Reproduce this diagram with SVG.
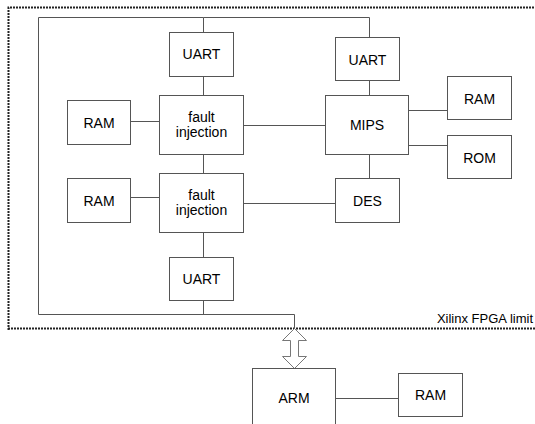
<svg xmlns="http://www.w3.org/2000/svg" width="535" height="424" viewBox="0 0 535 424">
<style>
.box{fill:#fff;stroke:#555;stroke-width:1}
.ln{fill:none;stroke:#555;stroke-width:1}
.t{font-family:"Liberation Sans",Arial,sans-serif;font-size:14px;fill:#000;text-anchor:middle}
</style>
<rect width="535" height="424" fill="#fff"/>
<path d="M8.5,330 V7.5 H540 M8,328.5 H540" fill="none" stroke="#222" stroke-width="2" stroke-dasharray="2,1"/>
<text x="533" y="323" font-family="'Liberation Sans',Arial,sans-serif" font-size="13" text-anchor="end">Xilinx FPGA limit</text>
<g id="connectors">
<path class="ln" d="M203.5,32 V17.5 H38.5 V314.5 H294.5 V328"/>
<path class="ln" d="M203.5,17.5 H369.5 V37"/>
<path class="ln" d="M203.5,76 V95"/>
<path class="ln" d="M130,121.5 H159"/>
<path class="ln" d="M243,125.5 H325"/>
<path class="ln" d="M369.5,80 V95"/>
<path class="ln" d="M408,110.5 H447"/>
<path class="ln" d="M408,145.5 H447"/>
<path class="ln" d="M369.5,154 V178"/>
<path class="ln" d="M203.5,154 V173"/>
<path class="ln" d="M130,197.5 H159"/>
<path class="ln" d="M243,203.5 H335"/>
<path class="ln" d="M203.5,232 V257"/>
<path class="ln" d="M203.5,300 V314"/>
<path class="ln" d="M335,398.5 H398"/>
<path d="M294.5,328.5 L306.5,340.5 H298.5 V356.5 H306.5 L294.5,368.5 L282.5,356.5 H290.5 V340.5 H282.5 Z" fill="#fff" stroke="#777" stroke-width="1"/>
</g>
<g id="uart1"><rect class="box" x="169.5" y="32.5" width="64" height="44"/><text class="t" x="201.5" y="59">UART</text></g>
<g id="fi1"><rect class="box" x="159.5" y="95.5" width="84" height="59"/><text class="t" x="201.5" y="122">fault</text><text class="t" x="201.5" y="137">injection</text></g>
<g id="ram1"><rect class="box" x="67.5" y="100.5" width="63" height="44"/><text class="t" x="99" y="128">RAM</text></g>
<g id="uart2"><rect class="box" x="335.5" y="37.5" width="64" height="43"/><text class="t" x="367.5" y="65">UART</text></g>
<g id="mips"><rect class="box" x="325.5" y="95.5" width="83" height="59"/><text class="t" x="367" y="130">MIPS</text></g>
<g id="ram2"><rect class="box" x="447.5" y="76.5" width="64" height="43"/><text class="t" x="479.5" y="104">RAM</text></g>
<g id="rom"><rect class="box" x="447.5" y="135.5" width="64" height="43"/><text class="t" x="479.5" y="163">ROM</text></g>
<g id="des"><rect class="box" x="335.5" y="178.5" width="64" height="44"/><text class="t" x="367.5" y="206">DES</text></g>
<g id="fi2"><rect class="box" x="159.5" y="173.5" width="84" height="59"/><text class="t" x="201.5" y="200">fault</text><text class="t" x="201.5" y="215">injection</text></g>
<g id="ram3"><rect class="box" x="67.5" y="178.5" width="63" height="44"/><text class="t" x="99" y="206">RAM</text></g>
<g id="uart3"><rect class="box" x="169.5" y="257.5" width="64" height="43"/><text class="t" x="201.5" y="284">UART</text></g>
<g id="arm"><rect class="box" x="252.5" y="368.5" width="83" height="70"/><text class="t" x="294" y="403">ARM</text></g>
<g id="ram4"><rect class="box" x="398.5" y="373.5" width="64" height="43"/><text class="t" x="430.5" y="400">RAM</text></g>
</svg>
